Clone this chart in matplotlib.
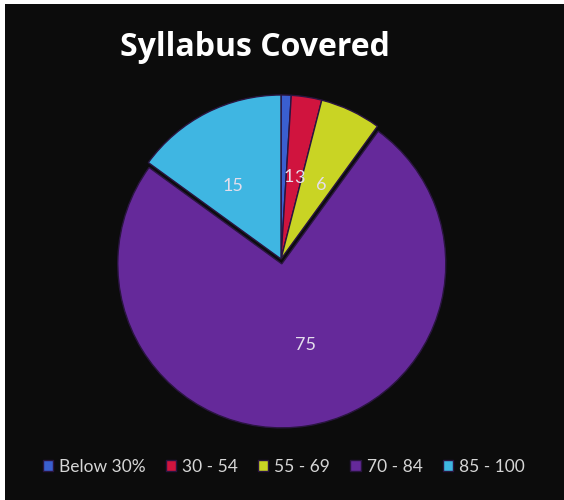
import matplotlib.pyplot as plt
from matplotlib.patches import Rectangle

categories = ["Below 30%", "30 - 54", "55 - 69", "70 - 84", "85 - 100"]
values = [1, 3, 6, 75, 15]
colors = ["#3a5fd0", "#d0143e", "#c9d424", "#65299a", "#3fb6e2"]
explode = [0, 0, 0, 0.03, 0]

plt.rcParams["font.family"] = ["Lato", "DejaVu Sans"]

fig = plt.figure(figsize=(5.64, 5.0), dpi=100)
fig.patch.set_facecolor("white")
fig.patches.append(Rectangle((5 / 564, 0), 1 - 5 / 564, 496 / 500,
                             transform=fig.transFigure, facecolor="#0c0c0c",
                             edgecolor="none", zorder=-5))

# pie axes, centre roughly at (281, 259) px, radius ~164 px
cx, cy, r = 281 / 564, 1 - 259 / 500, 164
ax = fig.add_axes([cx - r / 564, cy - r / 500, 2 * r / 564, 2 * r / 500])
ax.set_facecolor("none")
ax.set_zorder(2)

wedges, texts = ax.pie(
    values,
    colors=colors,
    explode=explode,
    startangle=90,
    counterclock=False,
    labels=[str(v) for v in values],
    labeldistance=0.5,
    wedgeprops=dict(edgecolor="#2a1540", linewidth=1.0),
    textprops=dict(color="#e4deec", fontsize=13),
)
ax.set_xlim(-1.0, 1.0)
ax.set_ylim(-1.0, 1.0)
ax.set_aspect("auto")
ax.axis("off")

fig.text(0.452, 1 - 47 / 500, "Syllabus Covered", color="white",
         fontsize=23, fontweight="bold", ha="center", va="center",
         family=["Open Sans", "DejaVu Sans"])

fig.legend(wedges, categories, loc="center", bbox_to_anchor=(0.503, 1 - 467 / 500),
           ncol=5, frameon=False, fontsize=12.5, labelcolor="#d6d6d6",
           handlelength=0.6, handleheight=0.6, handletextpad=0.35,
           columnspacing=1.15)

fig.savefig("out.png", dpi=100, facecolor=fig.get_facecolor())
